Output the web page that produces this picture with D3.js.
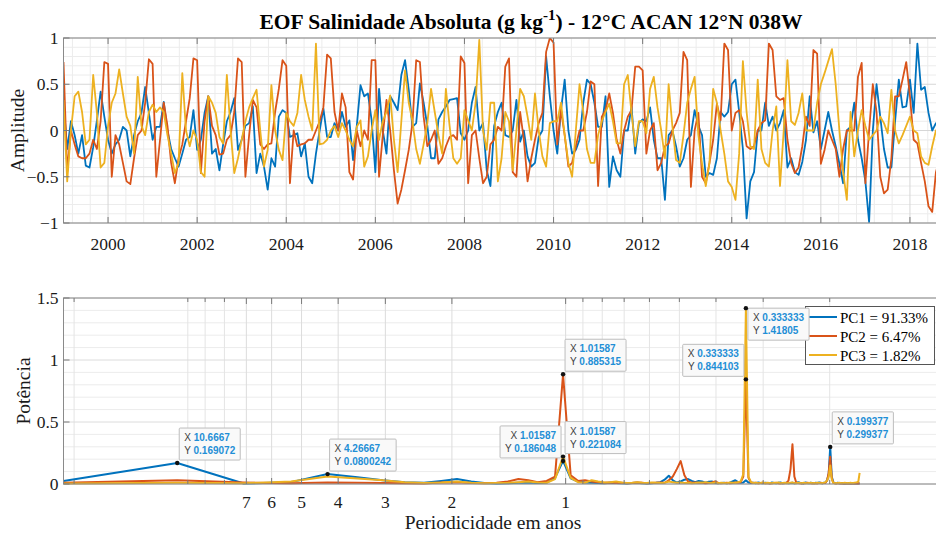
<!DOCTYPE html>
<html><head><meta charset="utf-8">
<script src="https://cdn.jsdelivr.net/npm/d3@7"></script>
<style>body{margin:0;background:#fff}svg{display:block}</style>
</head><body>
<svg id="c" width="936" height="535"></svg>
<script>
// ---------------- DATA ----------------
const startYear = 1999;          // first monthly sample (Jan 1999)
const nfft = 256;                // FFT length in months
const pc1 = [0.30,-0.20,0.10,-0.05,-0.25,-0.05,-0.38,-0.40,-0.18,0.11,
0.42,0.15,-0.10,-0.25,-0.15,-0.10,0.04,0.00,-0.28,-0.05,
0.10,0.19,0.47,0.19,-0.10,0.04,0.04,0.31,0.00,-0.20,
-0.30,-0.39,-0.25,-0.10,-0.07,0.22,-0.21,-0.10,0.19,0.37,
-0.25,-0.20,-0.43,-0.15,0.10,0.20,0.35,-0.21,-0.10,0.05,
0.08,0.26,-0.46,-0.25,-0.39,-0.64,-0.30,-0.39,0.15,0.22,
0.19,-0.07,-0.05,-0.03,-0.28,-0.14,-0.50,-0.57,-0.25,0.00,
0.24,-0.07,-0.07,0.08,0.00,0.20,0.04,0.11,-0.32,0.05,
0.49,0.37,0.40,0.11,-0.45,0.45,0.00,-0.25,0.37,0.30,
0.22,0.60,0.76,0.44,0.04,0.08,0.51,0.30,0.05,-0.30,
-0.30,0.12,0.20,0.26,0.33,0.34,0.35,-0.03,-0.10,0.00,
0.30,0.47,0.00,0.08,-0.43,-0.60,0.05,0.20,0.30,-0.05,
-0.07,0.00,0.33,-0.12,0.00,-0.28,-0.39,-0.35,-0.07,0.00,
0.80,0.37,0.00,-0.25,0.22,0.55,0.00,-0.25,-0.21,-0.10,
0.30,0.55,0.50,0.30,0.04,0.04,0.37,-0.61,-0.28,-0.43,
-0.50,0.00,0.00,0.26,-0.25,0.08,0.12,0.10,0.25,-0.10,
-0.30,-0.30,-0.75,-0.05,0.00,-0.17,-0.39,-0.30,-0.10,-0.05,
0.22,0.05,-0.05,-0.50,-0.46,-0.48,-0.30,0.20,0.15,0.20,
0.50,0.55,0.20,-0.20,-0.95,-0.55,-0.45,0.00,0.00,0.30,
0.05,0.15,0.00,0.08,0.22,-0.40,-0.30,-0.45,-0.48,-0.34,
-0.10,0.37,-0.02,0.10,-0.20,0.00,0.20,0.00,-0.17,-0.36,
-0.57,0.00,0.04,0.30,-0.10,-0.30,-0.55,-0.99,0.00,0.50,
0.15,-0.20,-0.40,-0.40,0.10,0.55,0.25,0.26,0.55,0.19,
0.94,0.44,0.47,0.19,0.00,0.08,0.00];
const pc2 = [0.74,-0.45,0.00,-0.15,-0.28,-0.30,-0.30,-0.25,-0.10,-0.20,
0.10,0.74,0.72,-0.50,-0.05,-0.15,-0.35,-0.55,-0.58,-0.30,
-0.05,0.00,0.30,0.77,0.72,-0.50,-0.10,0.30,0.05,-0.35,
-0.57,-0.30,-0.15,0.10,0.35,0.78,0.76,-0.46,0.10,0.37,
0.05,-0.05,-0.26,-0.25,-0.10,-0.05,0.20,0.78,0.74,-0.50,
-0.05,0.33,0.25,-0.15,-0.20,-0.15,-0.14,0.20,0.45,0.76,
0.70,-0.57,0.00,-0.17,-0.15,-0.14,-0.10,-0.10,0.00,0.10,
0.25,0.82,0.78,0.20,0.00,0.40,0.25,-0.45,-0.53,0.00,
-0.17,0.00,-0.10,0.76,0.76,-0.50,-0.05,0.33,0.00,-0.43,
-0.79,-0.64,-0.43,-0.21,0.08,0.76,0.74,0.15,-0.17,-0.10,
0.00,-0.36,-0.30,-0.17,-0.07,-0.05,-0.10,0.80,0.73,-0.57,
-0.05,0.00,-0.30,-0.57,-0.50,-0.15,-0.10,0.04,0.00,0.69,
0.78,-0.45,-0.50,0.20,-0.10,-0.55,-0.30,-0.10,0.08,0.19,
0.85,1.00,0.95,-0.15,0.22,-0.05,-0.39,-0.35,-0.17,0.00,
0.00,0.20,0.53,0.50,-0.60,0.15,0.22,0.40,0.19,-0.10,
-0.25,0.00,0.15,0.22,0.69,0.69,0.65,-0.25,0.00,0.08,
-0.43,-0.35,-0.17,-0.14,0.00,0.08,0.19,0.85,0.76,-0.61,
0.00,0.19,-0.50,-0.57,-0.35,-0.10,0.29,0.11,0.94,0.87,
0.00,0.19,0.22,0.10,-0.17,-0.20,-0.17,0.00,0.08,0.11,
0.94,0.87,0.37,0.33,0.35,-0.10,-0.35,-0.46,-0.40,-0.17,
0.15,0.05,0.87,0.83,-0.36,-0.21,0.00,-0.10,-0.20,-0.50,
-0.20,0.00,0.00,0.00,0.58,0.73,-0.57,0.00,0.50,0.20,
-0.50,-0.68,-0.64,-0.30,0.37,0.37,0.55,0.74,0.37,-0.10,
-0.14,-0.35,-0.55,-0.82,-0.88,-0.45,-0.30];
const pc3 = [0.33,-0.55,0.00,0.37,0.42,0.20,-0.15,-0.10,0.60,0.19,
-0.40,-0.35,0.05,0.30,0.40,0.66,0.40,0.15,0.05,-0.25,
0.58,0.05,-0.05,0.20,0.28,0.20,0.25,0.20,-0.05,-0.25,
-0.46,-0.35,0.62,0.00,-0.17,0.00,-0.10,-0.45,-0.50,0.37,
0.30,0.19,-0.07,-0.14,0.60,0.00,-0.46,-0.30,-0.10,0.10,
0.25,0.35,0.44,0.00,-0.39,-0.21,0.49,0.00,-0.21,-0.32,
0.19,0.10,0.05,0.19,0.60,0.33,0.15,0.00,0.94,-0.15,
-0.14,-0.10,0.00,0.05,-0.07,0.08,0.00,-0.10,-0.17,0.04,
0.11,-0.39,-0.28,0.00,0.22,-0.10,0.10,0.20,0.38,-0.10,
-0.45,0.10,0.65,0.30,0.10,-0.20,-0.36,-0.15,0.08,0.45,
0.20,-0.05,-0.25,0.45,0.05,-0.30,-0.36,-0.30,0.22,0.11,
0.00,0.30,0.98,0.00,-0.21,0.30,0.30,-0.55,-0.30,0.20,
0.10,-0.43,0.00,0.45,0.37,0.15,-0.10,0.40,0.00,-0.28,
-0.39,0.08,0.10,0.10,0.30,-0.05,-0.35,-0.50,0.00,0.50,
0.20,-0.20,-0.35,-0.35,-0.05,0.10,0.20,0.29,0.10,-0.14,
-0.14,0.50,0.60,0.19,-0.17,0.10,0.10,-0.03,0.45,0.58,
0.25,0.00,-0.30,0.50,0.05,-0.32,-0.35,-0.05,0.30,0.45,
0.58,-0.05,-0.36,-0.60,-0.35,0.45,0.30,0.00,-0.25,-0.55,
-0.61,-0.75,-0.25,0.75,0.20,-0.17,-0.20,0.55,-0.20,-0.35,
-0.39,0.00,0.26,-0.60,0.00,0.76,0.10,0.06,0.19,0.40,
0.00,0.00,0.00,0.30,0.50,0.62,0.75,0.88,0.50,0.00,
-0.45,-0.75,0.20,-0.28,0.00,0.22,0.05,-0.10,-0.05,0.00,
0.15,0.08,-0.03,0.44,0.00,-0.14,-0.05,0.05,0.15,0.00,
-0.03,-0.28,-0.35,-0.37,-0.17,0.00,0.05];
// power spectra, harmonics k = 1..128 of the 256-month FFT
const spec1 = [0.025,0.169072,0.004,0.015,0.0800242,0.055,0.030,0.015,0.010,0.025,
0.040,0.020,0.008,0.005,0.006,0.010,0.012,0.008,0.010,0.050,
0.186048,0.045,0.020,0.012,0.010,0.008,0.006,0.010,0.008,0.006,
0.005,0.008,0.010,0.006,0.004,0.006,0.010,0.015,0.035,0.067,
0.030,0.012,0.020,0.035,0.040,0.025,0.015,0.025,0.020,0.010,
0.018,0.020,0.008,0.006,0.008,0.010,0.006,0.010,0.020,0.030,
0.015,0.010,0.012,0.030,0.012,0.008,0.010,0.006,0.012,0.008,
0.006,0.010,0.008,0.005,0.012,0.008,0.006,0.010,0.012,0.006,
0.008,0.010,0.006,0.008,0.010,0.005,0.008,0.015,0.010,0.006,
0.005,0.012,0.008,0.006,0.010,0.008,0.006,0.010,0.008,0.012,
0.008,0.006,0.010,0.012,0.030,0.080,0.299377,0.060,0.015,0.008,
0.006,0.010,0.005,0.008,0.006,0.004,0.006,0.005,0.004,0.006,
0.005,0.004,0.003,0.005,0.004,0.003,0.004,0.005];
const spec2 = [0.010,0.030,0.012,0.006,0.012,0.010,0.008,0.006,0.005,0.012,
0.015,0.008,0.006,0.010,0.020,0.040,0.030,0.015,0.025,0.060,
0.885315,0.070,0.025,0.030,0.020,0.015,0.010,0.012,0.008,0.010,
0.006,0.008,0.012,0.010,0.006,0.008,0.010,0.012,0.010,0.030,
0.060,0.120,0.185,0.070,0.020,0.010,0.012,0.008,0.010,0.006,
0.008,0.012,0.020,0.010,0.006,0.008,0.010,0.006,0.008,0.012,
0.010,0.015,0.060,0.844103,0.050,0.012,0.008,0.010,0.006,0.008,
0.010,0.006,0.008,0.005,0.006,0.008,0.010,0.006,0.005,0.008,
0.006,0.010,0.030,0.120,0.320,0.060,0.010,0.008,0.006,0.005,
0.008,0.006,0.010,0.008,0.006,0.005,0.008,0.006,0.005,0.008,
0.010,0.006,0.008,0.010,0.030,0.090,0.220,0.050,0.010,0.006,
0.005,0.008,0.006,0.005,0.006,0.004,0.005,0.006,0.004,0.005,
0.004,0.006,0.005,0.004,0.005,0.004,0.006,0.005];
const spec3 = [0.005,0.010,0.006,0.020,0.060,0.045,0.030,0.015,0.008,0.012,
0.020,0.010,0.006,0.008,0.010,0.015,0.020,0.012,0.010,0.040,
0.221084,0.050,0.015,0.010,0.030,0.020,0.012,0.015,0.020,0.012,
0.008,0.010,0.015,0.010,0.008,0.012,0.010,0.008,0.010,0.020,
0.015,0.010,0.012,0.008,0.010,0.006,0.008,0.012,0.010,0.015,
0.010,0.008,0.012,0.006,0.010,0.008,0.006,0.012,0.010,0.008,
0.015,0.020,0.080,1.41805,0.060,0.015,0.008,0.010,0.006,0.008,
0.012,0.006,0.010,0.008,0.006,0.010,0.008,0.012,0.006,0.008,
0.010,0.006,0.008,0.010,0.012,0.008,0.006,0.010,0.008,0.006,
0.010,0.008,0.006,0.008,0.010,0.006,0.008,0.006,0.010,0.008,
0.006,0.008,0.010,0.015,0.030,0.060,0.150,0.040,0.010,0.006,
0.008,0.006,0.010,0.008,0.006,0.008,0.010,0.006,0.008,0.006,
0.010,0.008,0.006,0.010,0.012,0.015,0.020,0.090];
const seriesNames = ["PC1 = 91.33%", "PC2 = 6.47%", "PC3 = 1.82%"];
const colors = ["#0072BD", "#D95319", "#EDB120"];
const yearTicks = [2000, 2002, 2004, 2006, 2008, 2010, 2012, 2014, 2016, 2018];
const ampTicks = [-1, -0.5, 0, 0.5, 1];
const periodTicks = [7, 6, 5, 4, 3, 2, 1];
const periodMinor = [20, 10, 9, 8, 0.9, 0.8, 0.7, 0.6, 0.5, 0.4, 0.3, 0.2, 0.1];
const powTicks = [0, 0.5, 1, 1.5];
const tipSeries = [0, 0, 1, 0, 2, 2, 1, 0];
const tipK = [2, 5, 21, 21, 21, 64, 64, 107];
const tipXText = ["10.6667", "4.26667", "1.01587", "1.01587", "1.01587", "0.333333", "0.333333", "0.199377"];
const tipYText = ["0.169072", "0.0800242", "0.885315", "0.186048", "0.221084", "1.41805", "0.844103", "0.299377"];
const tipSide = ["ne", "ne", "ne", "nw", "ne", "se", "nw", "ne"];
const titleText = "EOF Salinidade Absoluta (g kg";
const titleRest = ") - 12°C ACAN 12°N 038W";

// ---------------- LAYOUT ----------------
const svg = d3.select("#c");
const L = 63.5, R = 951;
const top1 = 38, bot1 = 223, top2 = 298, bot2 = 484;
const serif = "'Liberation Serif','Times New Roman',serif";
const axisCol = "#8a8a8a";

const xT = d3.scaleLinear().domain([1999, 2019]).range([L, L + 20 * 44.55]);
const yA = d3.scaleLinear().domain([-1, 1]).range([bot1, top1]);
const xP = d3.scaleLog().domain([nfft / 12, 0.0955]).range([L, R]);
const yP = d3.scaleLinear().domain([0, 1.5]).range([bot2, top2]);

const defs = svg.append("defs");
defs.append("clipPath").attr("id", "cp1").append("rect").attr("x", L).attr("y", top1).attr("width", R - L).attr("height", bot1 - top1);
defs.append("clipPath").attr("id", "cp2").append("rect").attr("x", L).attr("y", top2 - 12).attr("width", R - L).attr("height", bot2 - top2 + 14);

// ---- grids panel 1
const g1 = svg.append("g");
const minorYears = d3.range(1999.2, 2019, 0.4).filter(v => Math.abs(v / 2 - Math.round(v / 2)) > 0.01);
g1.selectAll(".mv").data(minorYears).join("line")
  .attr("x1", d => xT(d)).attr("x2", d => xT(d)).attr("y1", top1).attr("y2", bot1)
  .attr("stroke", "#ececec").attr("stroke-width", 1);
const minorAmp = d3.range(-0.9, 1, 0.1).filter(v => Math.abs(v * 2 - Math.round(v * 2)) > 0.01);
g1.selectAll(".mh").data(minorAmp).join("line")
  .attr("x1", L).attr("x2", R).attr("y1", d => yA(d)).attr("y2", d => yA(d))
  .attr("stroke", "#ececec").attr("stroke-width", 1);
g1.selectAll(".Mv").data(yearTicks).join("line")
  .attr("x1", d => xT(d)).attr("x2", d => xT(d)).attr("y1", top1).attr("y2", bot1)
  .attr("stroke", "#d6d6d6").attr("stroke-width", 1);
g1.selectAll(".Mh").data(ampTicks).join("line")
  .attr("x1", L).attr("x2", R).attr("y1", d => yA(d)).attr("y2", d => yA(d))
  .attr("stroke", "#d6d6d6").attr("stroke-width", 1);

// ---- grids panel 2
const g2 = svg.append("g");
const minorPow = d3.range(0.1, 1.5, 0.1).filter(v => Math.abs(v * 2 - Math.round(v * 2)) > 0.01);
g2.selectAll(".mh").data(minorPow).join("line")
  .attr("x1", L).attr("x2", R).attr("y1", d => yP(d)).attr("y2", d => yP(d))
  .attr("stroke", "#ececec").attr("stroke-width", 1);
g2.selectAll(".mv").data(periodMinor).join("line")
  .attr("x1", d => xP(d)).attr("x2", d => xP(d)).attr("y1", top2).attr("y2", bot2)
  .attr("stroke", "#e4e4e4").attr("stroke-width", 1);
g2.selectAll(".Mv").data(periodTicks).join("line")
  .attr("x1", d => xP(d)).attr("x2", d => xP(d)).attr("y1", top2).attr("y2", bot2)
  .attr("stroke", "#dcdcdc").attr("stroke-width", 1);
g2.selectAll(".Mh").data(powTicks).join("line")
  .attr("x1", L).attr("x2", R).attr("y1", d => yP(d)).attr("y2", d => yP(d))
  .attr("stroke", "#dcdcdc").attr("stroke-width", 1);

// ---- time series
const pcs = [pc1, pc2, pc3];
const lineT = d3.line().x((d, i) => xT(startYear + i / 12)).y(d => yA(d));
const dg1 = svg.append("g").attr("clip-path", "url(#cp1)");
pcs.forEach((s, j) => {
  dg1.append("path").attr("d", lineT(s)).attr("fill", "none")
    .attr("stroke", colors[j]).attr("stroke-width", 1.8).attr("stroke-linejoin", "round");
});

// ---- spectra
const specs = [spec1, spec2, spec3];
const per = k => nfft / (12 * k);
const lineP = d3.line().x((d, i) => xP(per(i + 1))).y(d => yP(d));
const dg2 = svg.append("g").attr("clip-path", "url(#cp2)");
specs.forEach((s, j) => {
  dg2.append("path").attr("d", lineP(s)).attr("fill", "none")
    .attr("stroke", colors[j]).attr("stroke-width", 2).attr("stroke-linejoin", "round");
});

// ---- axes boxes and ticks
function box(t, b) {
  svg.append("rect").attr("x", L).attr("y", t).attr("width", R - L).attr("height", b - t)
    .attr("fill", "none").attr("stroke", axisCol).attr("stroke-width", 1);
}
box(top1, bot1); box(top2, bot2);
const tk = svg.append("g").attr("stroke", "#7a7a7a").attr("stroke-width", 1);
yearTicks.forEach(v => {
  tk.append("line").attr("x1", xT(v)).attr("x2", xT(v)).attr("y1", bot1).attr("y2", bot1 - 6);
  tk.append("line").attr("x1", xT(v)).attr("x2", xT(v)).attr("y1", top1).attr("y2", top1 + 6);
});
ampTicks.forEach(v => {
  tk.append("line").attr("x1", L).attr("x2", L + 6).attr("y1", yA(v)).attr("y2", yA(v));
});
periodTicks.concat(periodMinor).forEach(v => {
  const len = periodTicks.includes(v) ? 6 : 4;
  tk.append("line").attr("x1", xP(v)).attr("x2", xP(v)).attr("y1", top2).attr("y2", top2 + len);
  tk.append("line").attr("x1", xP(v)).attr("x2", xP(v)).attr("y1", bot2).attr("y2", bot2 - len);
});
powTicks.forEach(v => {
  tk.append("line").attr("x1", L).attr("x2", L + 6).attr("y1", yP(v)).attr("y2", yP(v));
});

// ---- tick labels
const lab = svg.append("g").attr("font-family", serif).attr("font-size", 17.5).attr("fill", "#1a1a1a");
yearTicks.forEach(v => lab.append("text").attr("x", xT(v)).attr("y", bot1 + 27).attr("text-anchor", "middle").text(v));
ampTicks.forEach(v => lab.append("text").attr("x", L - 5).attr("y", yA(v) + 6).attr("text-anchor", "end").text(d3.format("")(v)));
periodTicks.forEach(v => lab.append("text").attr("x", xP(v)).attr("y", bot2 + 24).attr("text-anchor", "middle").text(v));
powTicks.forEach(v => lab.append("text").attr("x", L - 5).attr("y", yP(v) + 6).attr("text-anchor", "end").text(v));

// ---- axis titles
svg.append("text").attr("transform", `translate(24,${(top1 + bot1) / 2}) rotate(-90)`)
  .attr("text-anchor", "middle").attr("font-family", serif).attr("font-size", 19.5).attr("fill", "#1a1a1a").text("Amplitude");
svg.append("text").attr("transform", `translate(30,${(top2 + bot2) / 2}) rotate(-90)`)
  .attr("text-anchor", "middle").attr("font-family", serif).attr("font-size", 19.5).attr("fill", "#1a1a1a").text("Potência");
svg.append("text").attr("x", 493).attr("y", 529)
  .attr("text-anchor", "middle").attr("font-family", serif).attr("font-size", 19.5).attr("fill", "#1a1a1a").text("Periodicidade em anos");

// ---- title
const tt = svg.append("text").attr("x", 531).attr("y", 29).attr("text-anchor", "middle")
  .attr("font-family", serif).attr("font-weight", "bold").attr("font-size", 21.5).attr("fill", "#000");
tt.append("tspan").text(titleText);
tt.append("tspan").attr("dy", -9).attr("font-size", 15).text("-1");
tt.append("tspan").attr("dy", 9).text(titleRest);

// ---- legend
const lg = svg.append("g");
lg.append("rect").attr("x", 805.5).attr("y", 306.5).attr("width", 129).attr("height", 58)
  .attr("fill", "#fff").attr("stroke", "#555").attr("stroke-width", 1);
seriesNames.forEach((n, j) => {
  const y = 317 + j * 19;
  lg.append("line").attr("x1", 809).attr("x2", 837).attr("y1", y).attr("y2", y)
    .attr("stroke", colors[j]).attr("stroke-width", 2);
  lg.append("text").attr("x", 840).attr("y", y + 5.5).attr("font-family", serif)
    .attr("font-size", 15).attr("fill", "#000").text(n);
});

// ---- data tips (drawn above legend)
const tipG = svg.append("g").attr("font-family", "'Liberation Sans',Arial,sans-serif").attr("font-size", 10);
tipK.forEach((k, i) => {
  const px = xP(per(k)), py = yP(specs[tipSeries[i]][k - 1]);
  const g = tipG.append("g");
  const t1 = g.append("text").attr("fill", "#404040");
  t1.append("tspan").text("X ");
  t1.append("tspan").attr("fill", "#1f8fd6").attr("font-weight", "bold").text(tipXText[i]);
  const t2 = g.append("text").attr("fill", "#404040");
  t2.append("tspan").text("Y ");
  t2.append("tspan").attr("fill", "#1f8fd6").attr("font-weight", "bold").text(tipYText[i]);
  const w = Math.max(t1.node().getComputedTextLength(), t2.node().getComputedTextLength()) + 10;
  const h = 32;
  const side = tipSide[i];
  const bx = side.includes("w") ? px - 2 - w : px + 2;
  const by = side.includes("n") ? py - 3 - h : py;
  g.insert("rect", "text").attr("x", bx).attr("y", by).attr("width", w).attr("height", h)
    .attr("fill", "#f9f9f9").attr("stroke", "#bdbdbd").attr("stroke-width", 1).attr("rx", 1);
  if (side.includes("w")) {
    t1.attr("x", bx + w - 5).attr("text-anchor", "end");
    t2.attr("x", bx + w - 5).attr("text-anchor", "end");
  } else {
    t1.attr("x", bx + 5); t2.attr("x", bx + 5);
  }
  t1.attr("y", by + 13); t2.attr("y", by + 26);
  tipG.append("circle").attr("cx", px).attr("cy", py).attr("r", 2.2).attr("fill", "#111");
});
</script>
</body></html>
